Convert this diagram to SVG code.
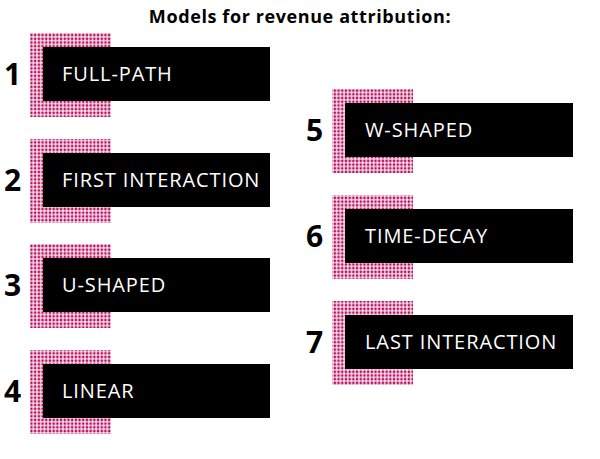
<svg xmlns="http://www.w3.org/2000/svg" width="600" height="459" viewBox="0 0 600 459">
<style>
.t{font-family:"Open Sans","Liberation Sans",sans-serif;font-size:20px;letter-spacing:0.9px;fill:#fff}
.n{font-family:"Open Sans","Liberation Sans",sans-serif;font-size:30px;font-weight:700;fill:#000}
.b{fill:#000}
.d{fill:url(#dots)}
</style>
<defs>
<pattern id="dots" width="3.7" height="3.7" patternUnits="userSpaceOnUse">
<rect width="3.7" height="3.7" fill="#fadcec"/>
<circle cx="1.85" cy="1.85" r="1.3" fill="#b0105a"/>
</pattern>
</defs>
<rect width="600" height="459" fill="#fff"/>
<text x="300" y="23" text-anchor="middle" style="font-family:'Open Sans','Liberation Sans',sans-serif;font-size:18px;font-weight:700;letter-spacing:0.6px">Models for revenue attribution:</text>
<g id="n1"><rect class="d" x="30" y="33" width="81" height="84"/><rect class="b" x="43" y="47" width="227" height="54"/><text class="n" x="4" y="85">1</text><text class="t" x="62" y="81">FULL-PATH</text></g>
<g id="n2"><rect class="d" x="30" y="139" width="81" height="84"/><rect class="b" x="43" y="153" width="227" height="54"/><text class="n" x="4" y="191">2</text><text class="t" x="62" y="187">FIRST INTERACTION</text></g>
<g id="n3"><rect class="d" x="30" y="244" width="81" height="84"/><rect class="b" x="43" y="258" width="227" height="54"/><text class="n" x="4" y="296">3</text><text class="t" x="62" y="292">U-SHAPED</text></g>
<g id="n4"><rect class="d" x="30" y="350" width="81" height="84"/><rect class="b" x="43" y="364" width="227" height="54"/><text class="n" x="4" y="402">4</text><text class="t" x="62" y="398">LINEAR</text></g>
<g id="n5"><rect class="d" x="332" y="89" width="81" height="84"/><rect class="b" x="345" y="103" width="228" height="54"/><text class="n" x="306" y="141">5</text><text class="t" x="365" y="137">W-SHAPED</text></g>
<g id="n6"><rect class="d" x="332" y="195" width="81" height="84"/><rect class="b" x="345" y="209" width="228" height="54"/><text class="n" x="306" y="247">6</text><text class="t" x="365" y="243">TIME-DECAY</text></g>
<g id="n7"><rect class="d" x="332" y="301" width="81" height="84"/><rect class="b" x="345" y="315" width="228" height="54"/><text class="n" x="306" y="353">7</text><text class="t" x="365" y="349">LAST INTERACTION</text></g>
<g id="connectors"/>
</svg>
